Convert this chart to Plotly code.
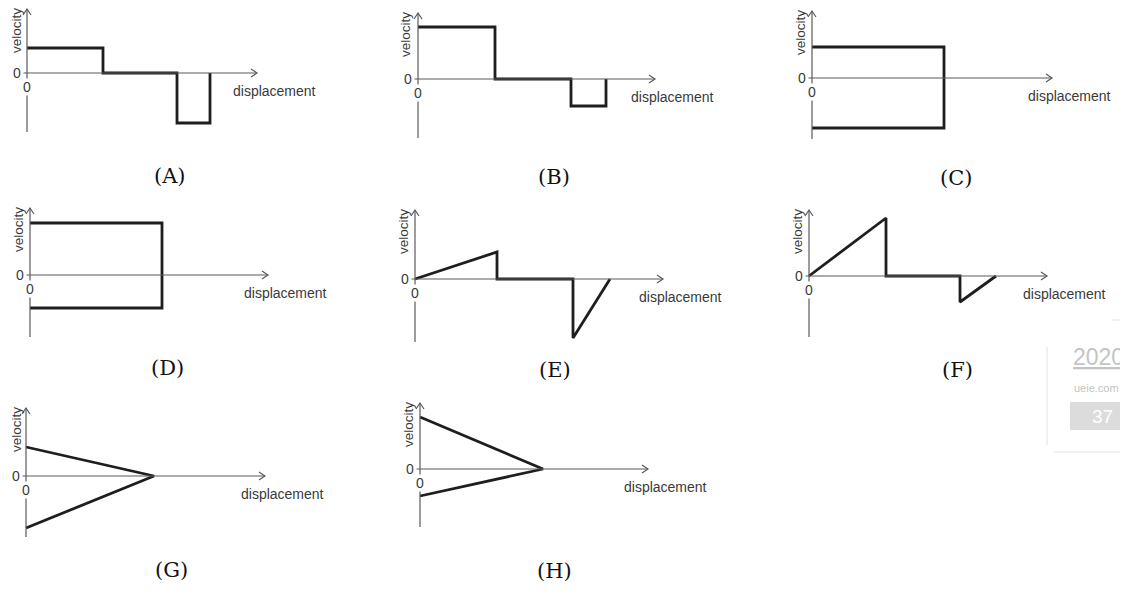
import plotly.graph_objects as go

W, H = 1128, 601
OFF = 8                      # the page body margin shifts the figure by this much
FW, FH = W - OFF, H - OFF    # figure size that fits the window
PX = 10                      # pixels per data unit, both axes, every panel

# ---- data (displacement, velocity) ----
disp_a = [0, 7.6, 7.6, 15.0, 15.0, 18.3, 18.3]
vel_a = [2.5, 2.5, 0, 0, -5.0, -5.0, 0]

disp_b = [0, 7.7, 7.7, 15.3, 15.3, 18.8, 18.8]
vel_b = [5.2, 5.2, 0, 0, -2.7, -2.7, 0]

disp_c = [0, 13.2, 13.2, 0]
vel_c = [3.1, 3.1, -5.0, -5.0]

disp_d = [0, 13.2, 13.2, 0]
vel_d = [5.2, 5.2, -3.3, -3.3]

disp_e = [0, 8.2, 8.2, 15.8, 15.8, 19.5]
vel_e = [0, 2.7, 0, 0, -5.9, 0]

disp_f = [0, 7.7, 7.7, 15.1, 15.1, 18.7]
vel_f = [0, 5.8, 0, 0, -2.6, 0]

disp_g = [0, 12.8, 0]
vel_g = [2.9, 0, -5.2]

disp_h = [0, 12.3, 0]
vel_h = [5.2, 0, -2.7]

captions = ["(A)", "(B)", "(C)", "(D)", "(E)", "(F)", "(G)", "(H)"]
x_title = "displacement"
y_title = "velocity"

# ---- placement of each small panel (pixel origin, axis extents in units, caption centre) ----
panels = [
    dict(x=disp_a, v=vel_a, o=(27, 73), xmax=23.0, ymin=-5.9, ymax=6.4, cap=(170, 176)),
    dict(x=disp_b, v=vel_b, o=(418, 79), xmax=23.7, ymin=-5.9, ymax=6.6, cap=(554, 177)),
    dict(x=disp_c, v=vel_c, o=(812, 78), xmax=24.0, ymin=-6.1, ymax=6.7, cap=(956, 178)),
    dict(x=disp_d, v=vel_d, o=(30, 275), xmax=23.8, ymin=-6.2, ymax=6.7, cap=(167, 368)),
    dict(x=disp_e, v=vel_e, o=(415, 279), xmax=24.8, ymin=-6.3, ymax=6.9, cap=(555, 370)),
    dict(x=disp_f, v=vel_f, o=(809, 276), xmax=23.8, ymin=-6.1, ymax=6.6, cap=(957, 370)),
    dict(x=disp_g, v=vel_g, o=(26, 476), xmax=23.9, ymin=-6.1, ymax=6.8, cap=(171, 570)),
    dict(x=disp_h, v=vel_h, o=(420, 469), xmax=22.8, ymin=-5.8, ymax=6.6, cap=(554, 571)),
]

AXIS_COL = "#5a5a5a"
TEXT_COL = "#3a3a3a"
SANS = "Liberation Sans, Arial, sans-serif"


def px(x):
    return (x - OFF) / FW


def py(y):
    return 1 - (y - OFF) / FH


def label(text, x, y, size=14, color=TEXT_COL, family=SANS, **kw):
    return dict(text=text, xref="paper", yref="paper", x=px(x), y=py(y),
                xanchor=kw.pop("xanchor", "center"), yanchor="middle",
                showarrow=False, font=dict(family=family, size=size, color=color), **kw)


fig = go.Figure()
shapes = []
annotations = []
layout_axes = {}

for i, p in enumerate(panels):
    n = "" if i == 0 else str(i + 1)
    ox, oy = p["o"]
    # a little room round each panel, kept inside the figure
    xr = [max(-0.5, -(ox - OFF) / PX), p["xmax"] + 0.5]
    yr = [p["ymin"] - 0.5, min(p["ymax"] + 0.4, (oy - OFF) / PX)]

    layout_axes["xaxis" + n] = dict(
        domain=[px(ox + xr[0] * PX), px(ox + xr[1] * PX)],
        range=xr, visible=False, fixedrange=True, anchor="y" + n)
    layout_axes["yaxis" + n] = dict(
        domain=[py(oy - yr[0] * PX), py(oy - yr[1] * PX)],
        range=yr, visible=False, fixedrange=True, anchor="x" + n)

    fig.add_trace(go.Scatter(
        x=p["x"], y=p["v"], mode="lines",
        line=dict(color="#1e1e1e", width=2.8),
        xaxis="x" + n, yaxis="y" + n,
        showlegend=False, hoverinfo="skip"))

    xref, yref = "x" + n, "y" + n
    axis_line = dict(color=AXIS_COL, width=1.2)
    # axes
    shapes.append(dict(type="line", xref=xref, yref=yref,
                       x0=-0.35, y0=0, x1=p["xmax"], y1=0, line=axis_line))
    shapes.append(dict(type="line", xref=xref, yref=yref,
                       x0=0, y0=p["ymin"], x1=0, y1=p["ymax"], line=axis_line))
    # open arrow heads
    shapes.append(dict(type="path", xref=xref, yref=yref,
                       xsizemode="pixel", ysizemode="pixel",
                       xanchor=p["xmax"], yanchor=0,
                       path="M-6,4 L0,0 L-6,-4", line=axis_line))
    shapes.append(dict(type="path", xref=xref, yref=yref,
                       xsizemode="pixel", ysizemode="pixel",
                       xanchor=0, yanchor=p["ymax"],
                       path="M-4,-6 L0,0 L4,-6", line=axis_line))

    tip_x = ox + p["xmax"] * PX
    tip_y = oy - p["ymax"] * PX
    annotations += [
        # keep the rotated title clear of the figure's left edge
        label(y_title, max(ox - 12, OFF + 9), tip_y + 22, size=13.5, textangle=-90),
        label("0", ox - 10, oy),
        # the "0" under the origin sits on the y axis and masks it
        label("0", ox, oy + 14, bgcolor="white", borderpad=0),
        label(x_title, tip_x - 26, oy + 18, xanchor="left"),
    ]
    cx, cy = p["cap"]
    annotations.append(label(captions[i], cx, cy, size=21, color="#111111",
                             family="DejaVu Serif, serif"))

# faint site badge at the right edge
edge = dict(color="#e3e3e3", width=1)
shapes += [
    dict(type="line", xref="paper", yref="paper", x0=px(1047), x1=px(1047),
         y0=py(347), y1=py(445), line=edge),
    dict(type="line", xref="paper", yref="paper", x0=px(1054), x1=px(1128),
         y0=py(452), y1=py(452), line=edge),
    dict(type="line", xref="paper", yref="paper", x0=px(1112), x1=px(1128),
         y0=py(320), y1=py(320), line=edge),
    dict(type="rect", xref="paper", yref="paper", x0=px(1070), x1=px(1128),
         y0=py(430), y1=py(402), fillcolor="#dcdcdc", line=dict(width=0)),
]
annotations += [
    label("<u>2020</u>", 1071, 357, size=23, color="#c4c4c4", xanchor="left"),
    label("ueie.com", 1072, 388, size=11, color="#c4c4c4", xanchor="left"),
    label("37", 1102, 416, size=19, color="#ffffff"),
]

fig.update_layout(
    width=FW, height=FH,
    margin=dict(l=0, r=0, t=0, b=0),
    paper_bgcolor="white", plot_bgcolor="rgba(0,0,0,0)",
    shapes=shapes, annotations=annotations,
    **layout_axes)

fig.write_html("out.html", config={"displayModeBar": False})
